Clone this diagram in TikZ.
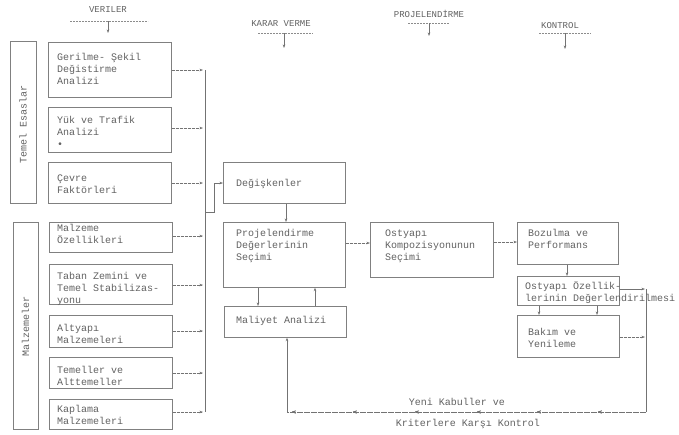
\documentclass[tikz,border=0pt]{standalone}
\usepackage{fontspec}
\setmonofont{Liberation Mono}
\usetikzlibrary{arrows.meta,decorations.markings}
\begin{document}
\begin{tikzpicture}[x=1pt,y=-1pt,
  every node/.style={font=\ttfamily\fontsize{10}{12}\selectfont, text=black!62},
  box/.style={draw=black!50, line width=0.7pt, inner sep=0pt, anchor=north west},
  txt/.style={align=left, inner sep=0pt, anchor=north west},
  hdr/.style={inner sep=0pt, font=\ttfamily\fontsize{9}{11}\selectfont},
  ln/.style={draw=black!55, line width=0.6pt},
  arr/.style={ln, -{Stealth[length=3.5pt,width=2.6pt]}},
  darr/.style={arr, dash pattern=on 3pt off 1pt},
  ul/.style={draw=black!45, line width=0.6pt, dash pattern=on 2pt off 1pt},
  lm/.style={decoration={markings, mark=at position #1 with {\arrow{Stealth[length=3.5pt,width=2.6pt]}}}, postaction={decorate}}
]
\useasboundingbox (0,0) rectangle (679,434);

% headers
\node[hdr] (hv) at (108,10) {VERILER};
\coordinate (hv1) at (70,21); \coordinate (hv2) at (148,21);
\coordinate (hva) at (108,21); \coordinate (hvb) at (108,33);
\draw[ul] (hv1) -- (hv2); \draw[arr] (hva) -- (hvb);

\node[hdr] (hk) at (281,24) {KARAR VERME};
\coordinate (hk1) at (258,33); \coordinate (hk2) at (313,33);
\coordinate (hka) at (284,33); \coordinate (hkb) at (284,48);
\draw[ul] (hk1) -- (hk2); \draw[arr] (hka) -- (hkb);

\node[hdr] (hp) at (429,14) {PROJELENDİRME};
\coordinate (hp1) at (408,23); \coordinate (hp2) at (449,23);
\coordinate (hpa) at (429,23); \coordinate (hpb) at (429,36);
\draw[ul] (hp1) -- (hp2); \draw[arr] (hpa) -- (hpb);

\node[hdr] (hc) at (560,26) {KONTROL};
\coordinate (hc1) at (539,33); \coordinate (hc2) at (591,33);
\coordinate (hca) at (565,33); \coordinate (hcb) at (565,49);
\draw[ul] (hc1) -- (hc2); \draw[arr] (hca) -- (hcb);

% group boxes
\node[box, minimum width=26pt, minimum height=162pt] (ges) at (10,41) {};
\node[rotate=90] (gest) at (23,124) {Temel Esaslar};
\node[box, minimum width=25pt, minimum height=207pt] (gmz) at (13,222) {};
\node[rotate=90] (gmzt) at (25.5,326) {Malzemeler};

% input boxes
\node[box, minimum width=123pt, minimum height=55pt] (b1) at (48,42) {};
\node[txt] (t1) at (57,53.5) {Gerilme- Şekil\\Değistirme\\Analizi};
\node[box, minimum width=123pt, minimum height=45pt] (b2) at (48,107) {};
\node[txt] (t2) at (57,116.5) {Yük ve Trafik\\Analizi\\•};
\node[box, minimum width=123pt, minimum height=41pt] (b3) at (48,162) {};
\node[txt] (t3) at (57,174.5) {Çevre\\Faktörleri};
\node[box, minimum width=123pt, minimum height=30pt] (b4) at (49,222) {};
\node[txt] (t4) at (57,224.5) {Malzeme\\Özellikleri};
\node[box, minimum width=123pt, minimum height=40pt] (b5) at (49,264) {};
\node[txt] (t5) at (57,272.5) {Taban Zemini ve\\Temel  Stabilizas-\\yonu};
\node[box, minimum width=123pt, minimum height=32pt] (b6) at (49,315) {};
\node[txt] (t6) at (57,324.5) {Altyapı\\Malzemeleri};
\node[box, minimum width=123pt, minimum height=31pt] (b7) at (49,357) {};
\node[txt] (t7) at (57,366.5) {Temeller ve\\Alttemeller};
\node[box, minimum width=123pt, minimum height=30pt] (b8) at (49,399) {};
\node[txt] (t8) at (57,405.5) {Kaplama\\Malzemeleri};

% bus
\coordinate (bust) at (205,70);
\coordinate (busb) at (205,412);
\draw[ln] (bust) -- (busb);
\foreach \b/\y in {b1/70,b2/128,b3/183,b4/236,b5/285,b6/331,b7/373,b8/412}{
  \draw[darr] (\b.east |- 0,\y) -- (203,\y);
}

% decision column
\node[box, minimum width=122pt, minimum height=41pt] (dg) at (223,162) {};
\node[txt] (dgt) at (236,179.5) {Değişkenler};
\coordinate (busx) at (205,212);
\coordinate (busk) at (214,212);
\coordinate (busu) at (214,183);
\draw[ln] (busx) -- (busk) -- (busu);
\draw[arr] (busu) -- (dg.west |- busu);

\node[box, minimum width=122pt, minimum height=65pt] (pd) at (223,222) {};
\node[txt] (pdt) at (236,229.5) {Projelendirme\\Değerlerinin\\Seçimi};
\draw[arr] (dg.south -| 286,0) -- (pd.north -| 286,0);

\node[box, minimum width=122pt, minimum height=31pt] (ma) at (224,306) {};
\node[txt] (mat) at (236,316.5) {Maliyet Analizi};
\draw[arr] (pd.south -| 258,0) -- (ma.north -| 258,0);
\draw[arr] (ma.north -| 315,0) -- (pd.south -| 315,0);

% design column
\node[box, minimum width=123pt, minimum height=55pt] (ok) at (370,222) {};
\node[txt] (okt) at (385,229.5) {Ostyapı\\Kompozisyonunun\\Seçimi};
\draw[darr] (pd.east |- 0,243) -- (ok.west |- 0,243);

% control column
\node[box, minimum width=101pt, minimum height=42pt] (bz) at (517,222) {};
\node[txt] (bzt) at (528,229.5) {Bozulma ve\\Performans};
\draw[darr] (ok.east |- 0,242) -- (bz.west |- 0,242);

\node[box, minimum width=102pt, minimum height=29pt] (oz) at (517,276) {};
\draw[arr] (bz.south -| 567,0) -- (oz.north -| 567,0);

\node[box, minimum width=102pt, minimum height=42pt] (bk) at (517,315) {};
\node[txt] (bkt) at (528,328.5) {Bakım ve\\Yenileme};
\draw[arr] (oz.south -| 539,0) -- (bk.north -| 539,0);
\draw[arr] (oz.south -| 597,0) -- (bk.north -| 597,0);

% feedback loop
\coordinate (fbt) at (646,289);
\coordinate (fbr) at (646,412);
\coordinate (fbl) at (287,412);
\draw[arr] (oz.east |- fbt) -- (645,289);
\draw[darr] (bk.east |- 0,337) -- (645,337);
\draw[ln] (fbt) -- (fbr);
\draw[ln, dash pattern=on 6pt off 1pt, lm=48pt, lm=109pt, lm=169pt, lm=231pt, lm=293pt, lm=354pt] (fbr) -- (fbl);
\draw[arr] (fbl) -- (ma.south -| fbl);

\node[txt] (ozt) at (525,281.5) {Ostyapı Özellik-\\lerinin Değerlendirilmesi};

\node (fb1) at (457,402) {Yeni Kabuller ve};
\node (fb2) at (468,424) {Kriterlere Karşı Kontrol};
\end{tikzpicture}
\end{document}
